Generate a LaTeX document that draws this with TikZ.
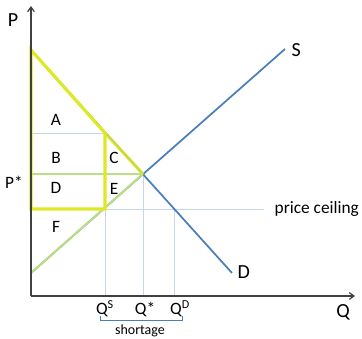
\documentclass[tikz,border=0pt]{standalone}
\usepackage{fontspec}
\setmainfont{Carlito}
\usepackage{xcolor}
\definecolor{curveblue}{HTML}{4A7EBB}
\definecolor{gridblue}{HTML}{C5D6EA}
\definecolor{csyellow}{HTML}{DDE829}
\definecolor{psgreen}{HTML}{BBDD86}
\definecolor{axisgray}{HTML}{404040}
\usepackage{tikz}
\usetikzlibrary{arrows.meta,positioning,calc}

\begin{document}
\begin{tikzpicture}[x=0.75pt,y=-0.75pt,
  curve/.style={curveblue,line width=1.3pt},
  guide/.style={gridblue,line width=0.6pt},
  csline/.style={csyellow,line width=2.4pt,line join=miter},
  psline/.style={psgreen,line width=1.6pt},
  axisline/.style={axisgray,line width=0.9pt,-{Straight Barb[length=3.5pt,width=5pt]}},
  area/.style={font=\fontsize{13}{13}\selectfont},
  lbl/.style={font=\fontsize{13}{13}\selectfont},
  big/.style={font=\fontsize{15}{15}\selectfont}]
\useasboundingbox (0,0) rectangle (362,339);
% key points
\coordinate (o) at (31,296);
\coordinate (ytop) at (31,6);
\coordinate (xend) at (355,296);
\coordinate (top) at (31,50);
\coordinate (eq) at (143,174);
\coordinate (sbot) at (31,273);
\coordinate (send) at (285,49);
\coordinate (dend) at (232,273);
\coordinate (qs) at (105,209);
\coordinate (qd) at (174,209);
\coordinate (dqs) at (105,133);
\coordinate (ceil) at (264,209);
% guides
\draw[guide] (31,133) -- (dqs);
\draw[guide] (qs) -- (ceil);
\draw[guide] (qs) -- (qs |- o);
\draw[guide] (eq) -- (eq |- o);
\draw[guide] (qd) -- (qd |- o);
% supply and demand
\draw[curve] (sbot) -- (send);
\draw[curve] (top) -- (dend);
% surplus outlines
\draw[psline] (31,174) -- (eq);
\draw[psline] (sbot) -- (eq);
\draw[psline] (31,209) -- (sbot);
\draw[csline,opacity=0.85] (dqs) -- (eq);
\draw[csline] (31,209) -- (top) -- (dqs) -- (qs) -- cycle;
% axes
\draw[axisline] (o) -- (ytop);
\draw[axisline] (o) -- (xend);
% labels
\node[big] (plbl) at (13,20) {P};
\node[big] (qlbl) at (343,312) {Q};
\node[big,anchor=west] (slbl) at (287,50) {S};
\node[big,anchor=west] (dlbl) at (233,272) {D};
\node[lbl] (pstar) at (14,182) {P*};
\node[lbl,anchor=west] (ceillbl) at (270,209) {price ceiling};
\node[area] (a) at (56,120) {A};
\node[area] (b) at (56,158) {B};
\node[area] (c) at (114,158) {C};
\node[area] (d) at (56,188) {D};
\node[area] (e) at (114,189) {E};
\node[area] (f) at (56,227) {F};
\node[lbl] (qslbl) at (105,309) {Q\textsuperscript{S}};
\node[lbl] (qstar) at (145,309) {Q*};
\node[lbl] (qdlbl) at (180,309) {Q\textsuperscript{D}};
\node[font=\fontsize{10.5}{10.5}\selectfont] (short) at (140,331) {shortage};
% bracket
\draw[curveblue,line width=0.6pt] (100,316) -- (100,320) -- (182,320) -- (182,316);
\draw[curveblue,line width=0.6pt] (141,320) -- (short.north -| 141,0);
\end{tikzpicture}
\end{document}
